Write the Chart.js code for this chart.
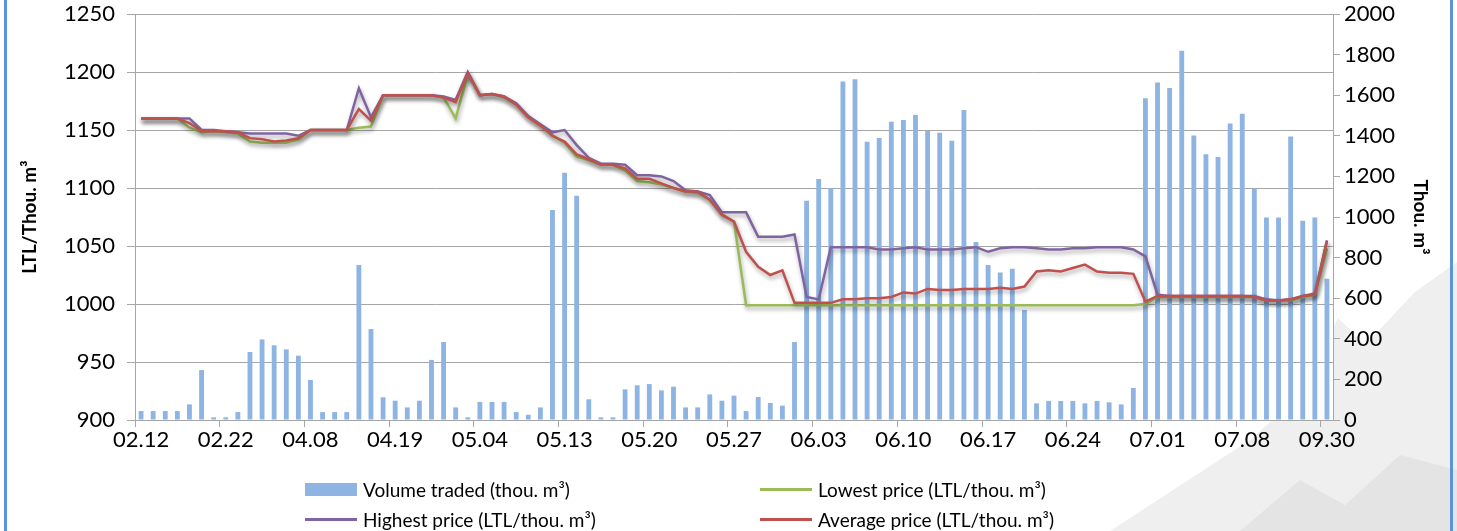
<!DOCTYPE html>
<html>
<head>
<meta charset="utf-8">
<script src="https://cdn.jsdelivr.net/npm/chart.js@4.4.1/dist/chart.umd.min.js"></script>
<style>
  html, body { margin: 0; padding: 0; background: #fff; }
  #wrap { position: relative; width: 1457px; height: 531px; overflow: hidden; background: #fff;
          font-family: Lato, "Liberation Sans", sans-serif; }
  #hills, #chart { position: absolute; left: 0; top: 0; }
  .edge { position: absolute; top: 0; width: 3px; height: 531px; background: #5a95db; }
  #legend .item { position: absolute; display: flex; align-items: center; height: 22px;
                  font-size: 19px; color: #000; white-space: nowrap; }
  #legend .swatch { display: inline-block; width: 52px; margin-right: 6px; }
</style>
</head>
<body>
<div id="wrap">
  <svg id="hills" width="1457" height="531">
    <polygon points="1110,531 1250,440 1300,395 1338,318 1365,345 1415,292 1457,262 1457,531" fill="#efefef"/>
    <polygon points="1240,531 1300,480 1345,505 1400,455 1457,470 1457,531" fill="#e4e4e4"/>
  </svg>
  <canvas id="chart" width="1457" height="531"></canvas>
  <div class="edge" style="left:4px"></div>
  <div class="edge" style="left:1450px"></div>
  <div id="legend"></div>
</div>
<script>
// trading days, only every 7th one is labelled on the axis
const categories = [
  '02.12', '', '', '', '', '', '',
  '02.22', '', '', '', '', '', '',
  '04.08', '', '', '', '', '', '',
  '04.19', '', '', '', '', '', '',
  '05.04', '', '', '', '', '', '',
  '05.13', '', '', '', '', '', '',
  '05.20', '', '', '', '', '', '',
  '05.27', '', '', '', '', '', '',
  '06.03', '', '', '', '', '', '',
  '06.10', '', '', '', '', '', '',
  '06.17', '', '', '', '', '', '',
  '06.24', '', '', '', '', '', '',
  '07.01', '', '', '', '', '', '',
  '07.08', '', '', '', '', '', '',
  '09.30'
];

const seriesNames = [
  'Volume traded (thou. m³)',
  'Lowest price (LTL/thou. m³)',
  'Highest price (LTL/thou. m³)',
  'Average price (LTL/thou. m³)'
];

// thou. m3 (right axis)
const volume = [
  44, 44, 44, 44, 77, 246, 13, 13, 39, 335,
  397, 368, 348, 317, 197, 39, 39, 39, 763, 448,
  112, 95, 62, 95, 296, 384, 62, 13, 89, 89,
  89, 39, 26, 62, 1034, 1218, 1105, 102, 13, 13,
  151, 171, 177, 146, 164, 62, 62, 126, 95, 120,
  44, 113, 84, 71, 384, 1080, 1187, 1143, 1667, 1678,
  1371, 1389, 1469, 1478, 1502, 1424, 1415, 1376, 1527, 877,
  763, 726, 745, 542, 82, 94, 94, 94, 82, 94,
  87, 77, 158, 1585, 1662, 1635, 1819, 1402, 1309, 1296,
  1460, 1509, 1140, 998, 998, 1396, 982, 998, 696
];

// LTL/thou. m3 (left axis)
const lowest = [
  1160, 1160, 1160, 1160, 1152, 1148, 1149, 1148, 1147, 1140,
  1139, 1139, 1139, 1142, 1150, 1150, 1150, 1150, 1152, 1153,
  1180, 1180, 1180, 1180, 1180, 1178, 1160, 1198, 1180, 1181,
  1178, 1172, 1161, 1154, 1145, 1139, 1127, 1124, 1120, 1120,
  1115, 1106, 1105, 1103, 1100, 1097, 1096, 1090, 1077, 1071,
  999, 999, 999, 999, 999, 999, 999, 999, 999, 999,
  999, 999, 999, 999, 999, 999, 999, 999, 999, 999,
  999, 999, 999, 999, 999, 999, 999, 999, 999, 999,
  999, 999, 999, 1000, 1006, 1006, 1006, 1006, 1006, 1006,
  1006, 1006, 1006, 1003, 1003, 1003, 1006, 1008, 1048
];

const highest = [
  1160, 1160, 1160, 1160, 1160, 1150, 1150, 1149, 1148, 1147,
  1147, 1147, 1147, 1145, 1150, 1150, 1150, 1150, 1186, 1161,
  1180, 1180, 1180, 1180, 1180, 1179, 1176, 1200, 1180, 1181,
  1179, 1173, 1162, 1155, 1148, 1150, 1137, 1126, 1121, 1121,
  1120, 1111, 1111, 1110, 1106, 1098, 1097, 1094, 1079, 1079,
  1079, 1058, 1058, 1058, 1060, 1006, 1004, 1049, 1049, 1049,
  1049, 1047, 1047, 1048, 1049, 1047, 1047, 1047, 1048, 1049,
  1045, 1048, 1049, 1049, 1048, 1047, 1047, 1048, 1048, 1049,
  1049, 1049, 1047, 1041, 1008, 1007, 1007, 1007, 1007, 1007,
  1007, 1007, 1007, 1004, 1003, 1004, 1007, 1009, 1055
];

const average = [
  1160, 1160, 1160, 1160, 1156, 1149, 1149, 1149, 1148, 1143,
  1142, 1140, 1141, 1143, 1150, 1150, 1150, 1150, 1168, 1158,
  1180, 1180, 1180, 1180, 1180, 1178, 1174, 1199, 1180, 1181,
  1179, 1172, 1161, 1154, 1145, 1140, 1129, 1125, 1120, 1120,
  1117, 1108, 1108, 1104, 1100, 1097, 1097, 1090, 1077, 1071,
  1045, 1032, 1025, 1029, 1001, 1001, 1001, 1001, 1004, 1004,
  1005, 1005, 1006, 1010, 1009, 1013, 1012, 1012, 1013, 1013,
  1013, 1014, 1013, 1015, 1028, 1029, 1028, 1031, 1034, 1028,
  1027, 1027, 1026, 1002, 1007, 1007, 1007, 1007, 1007, 1007,
  1007, 1007, 1006, 1003, 1003, 1004, 1007, 1008, 1054
];

const gridGray = '#a6a6a6';
Chart.defaults.font.family = 'Lato, "Liberation Sans", sans-serif';
Chart.defaults.color = '#000';

// white plot area so the background hills only show outside it
const plotBackground = {
  id: 'plotBackground',
  beforeDraw(chart) {
    const a = chart.chartArea;
    chart.ctx.save();
    chart.ctx.fillStyle = '#fff';
    chart.ctx.fillRect(a.left, a.top, a.right - a.left, a.bottom - a.top);
    chart.ctx.restore();
  }
};

// soft drop shadow under the price lines
const lineShadow = {
  id: 'lineShadow',
  beforeDatasetDraw(chart, args) {
    if (args.meta.type !== 'line') return;
    const c = chart.ctx;
    c.save();
    c.shadowColor = 'rgba(0,0,0,0.35)';
    c.shadowBlur = 4;
    c.shadowOffsetX = 1;
    c.shadowOffsetY = 3;
  },
  afterDatasetDraw(chart, args) {
    if (args.meta.type !== 'line') return;
    chart.ctx.restore();
  }
};

// fixed axis sizes so the plot area sits where the original one does
function fixVertical(width) {
  return (s) => {
    s.width = width;
    s.paddingTop = 0;
    s.paddingBottom = 0;
  };
}

var ctx = document.getElementById('chart').getContext('2d');

const priceChart = new Chart(ctx, {
  type: 'bar',
  data: {
    labels: categories,
    datasets: [{
      type: 'bar',
      label: seriesNames[0],
      data: volume,
      yAxisID: 'y1',
      backgroundColor: '#8DB4E2',
      barPercentage: 0.4,
      categoryPercentage: 1,
      order: 4
    }, {
      type: 'line',
      label: seriesNames[1],
      data: lowest,
      yAxisID: 'y',
      borderColor: '#9BBB59',
      backgroundColor: '#9BBB59',
      borderWidth: 2.5,
      pointRadius: 0,
      tension: 0,
      order: 3
    }, {
      type: 'line',
      label: seriesNames[2],
      data: highest,
      yAxisID: 'y',
      borderColor: '#8064A2',
      backgroundColor: '#8064A2',
      borderWidth: 2.5,
      pointRadius: 0,
      tension: 0,
      order: 2
    }, {
      type: 'line',
      label: seriesNames[3],
      data: average,
      yAxisID: 'y',
      borderColor: '#C0504D',
      backgroundColor: '#C0504D',
      borderWidth: 2.5,
      pointRadius: 0,
      tension: 0,
      order: 1
    }]
  },
  options: {
    responsive: false,
    animation: false,
    layout: { padding: { top: 14, left: 0, right: 0, bottom: 0 } },
    plugins: {
      legend: { display: false },
      tooltip: { enabled: false }
    },
    scales: {
      x: {
        offset: true,
        grid: {
          offset: true,
          drawOnChartArea: false,
          tickLength: 7,
          color: (c) => categories[c.index] ? gridGray : 'rgba(0,0,0,0)'
        },
        border: { color: gridGray },
        ticks: {
          autoSkip: false,
          maxRotation: 0,
          padding: 0,
          font: { size: 22 },
          callback: (v, i) => categories[i]
        },
        afterFit: (s) => { s.height = 111; }
      },
      y: {
        position: 'left',
        min: 900,
        max: 1250,
        ticks: { stepSize: 50, padding: 12, font: { size: 22 }, callback: (v) => String(v) },
        grid: { color: gridGray, tickLength: 8 },
        border: { color: gridGray },
        title: {
          display: true,
          text: 'LTL/Thou. m³',
          font: { size: 19, weight: 'bold' },
          padding: { top: 18, bottom: 0 }
        },
        afterFit: fixVertical(135)
      },
      y1: {
        position: 'right',
        min: 0,
        max: 2000,
        ticks: { stepSize: 200, padding: 4, font: { size: 22 }, callback: (v) => String(v) },
        grid: { drawOnChartArea: false, color: gridGray, tickLength: 7 },
        border: { color: gridGray },
        title: {
          display: true,
          text: 'Thou. m³',
          font: { size: 19, weight: 'bold' },
          padding: { top: 25, bottom: 0 }
        },
        afterFit: fixVertical(124)
      }
    }
  },
  plugins: [plotBackground, lineShadow]
});

// LEGEND (two columns, built from the chart's own datasets)
const legendBox = document.getElementById('legend');
const slots = [[305, 478], [760, 478], [305, 508], [760, 508]];
priceChart.data.datasets.forEach((ds, i) => {
  const item = document.createElement('div');
  item.className = 'item';
  item.style.left = slots[i][0] + 'px';
  item.style.top = slots[i][1] + 'px';
  const sw = document.createElement('span');
  sw.className = 'swatch';
  if (ds.type === 'bar') {
    sw.style.height = '13px';
    sw.style.background = ds.backgroundColor;
  } else {
    sw.style.height = '3px';
    sw.style.background = ds.borderColor;
  }
  item.appendChild(sw);
  item.appendChild(document.createTextNode(ds.label));
  legendBox.appendChild(item);
});
</script>
</body>
</html>
